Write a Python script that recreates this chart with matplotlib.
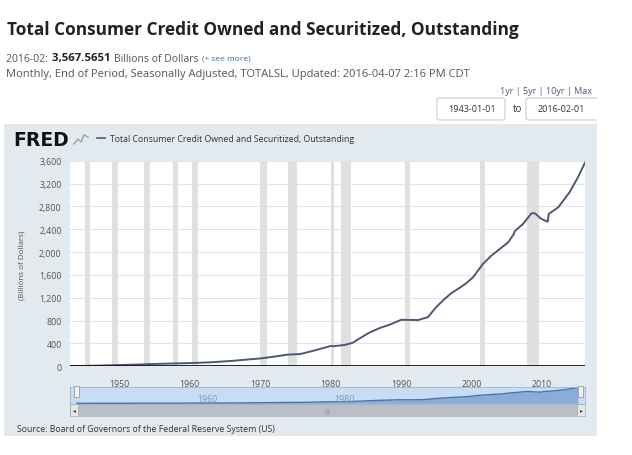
import numpy as np
import matplotlib.pyplot as plt
from matplotlib.patches import Rectangle, FancyBboxPatch
from matplotlib.lines import Line2D

# Serie (anio decimal, miles de millones de USD)
anios = [1943.0, 1945.0, 1947.0, 1950.0, 1953.0, 1955.0, 1958.0, 1960.0, 1963.0,
         1966.0, 1970.2, 1972.0, 1973.9, 1975.7, 1977.6, 1980.0, 1980.5, 1982.0,
         1983.1, 1984.0, 1985.5, 1986.9, 1988.5, 1990.0, 1992.4, 1993.8, 1995.0,
         1996.2, 1997.1, 1998.1, 1999.2, 2000.2, 2001.6, 2002.8, 2005.2, 2006.0,
         2006.1, 2006.3, 2007.3, 2008.5, 2009.0, 2009.9, 2010.8, 2010.95, 2012.3,
         2013.9, 2015.1, 2016.1]
valores = [5, 6, 12, 22, 32, 41, 50, 56, 70,
           95, 140, 170, 204, 215, 274, 355, 352, 375,
           410, 480, 590, 667, 735, 814, 810, 860, 1040,
           1182, 1278, 1358, 1450, 1558, 1791, 1937, 2171, 2317,
           2360, 2387, 2492, 2679, 2679, 2580, 2532, 2667, 2784,
           3046, 3309, 3567]

# Recesiones NBER (inicio, fin)
recesiones = [(1945.1, 1945.8), (1948.9, 1949.8), (1953.5, 1954.4), (1957.6, 1958.3),
              (1960.3, 1961.1), (1969.9, 1970.9), (1973.9, 1975.2), (1980.0, 1980.5),
              (1981.5, 1982.9), (1990.5, 1991.2), (2001.2, 2001.9), (2007.9, 2009.5)]

y_ticks = [0, 400, 800, 1200, 1600, 2000, 2400, 2800, 3200, 3600]
x_ticks = [1950, 1960, 1970, 1980, 1990, 2000, 2010]

W, H = 632, 456
def fx(px):
    return px / W
def fy(py):
    return 1 - py / H

plt.rcParams['font.family'] = ['Open Sans', 'DejaVu Sans']
fig = plt.figure(figsize=(W / 100, H / 100), dpi=100)
fig.patch.set_facecolor('white')
rend = fig.canvas.get_renderer()

# Encabezado
fig.text(fx(7), fy(30), 'Total Consumer Credit Owned and Securitized, Outstanding',
         fontsize=12.4, fontweight='bold', color='#222222', va='center')

# linea 2: trozos seguidos
x = 6
for txt, kw in [('2016-02: ', dict(fontsize=7.5, color='#555555')),
                ('3,567.5651 ', dict(fontsize=8.2, fontweight='bold', color='#222222')),
                ('Billions of Dollars ', dict(fontsize=7.5, color='#555555')),
                ('(+ see more)', dict(fontsize=6, color='#3a6ea5'))]:
    t = fig.text(fx(x), fy(59), txt, va='center', **kw)
    x += t.get_window_extent(rend).width + 1

fig.text(fx(6), fy(75), 'Monthly, End of Period, Seasonally Adjusted, TOTALSL, Updated: 2016-04-07 2:16 PM CDT',
         fontsize=8.0, color='#555555', va='center')
fig.text(fx(500), fy(92), '1yr | 5yr | 10yr | Max', fontsize=6.5, color='#4a5a78', va='center')

for x0, x1, txt in [(437, 505, '1943-01-01'), (526, 604, '2016-02-01')]:
    fig.patches.append(FancyBboxPatch((fx(x0), fy(121)), fx(x1 - x0), (121 - 99) / H,
                                      boxstyle='round,pad=0,rounding_size=0.004',
                                      transform=fig.transFigure, facecolor='white',
                                      edgecolor='#cccccc', linewidth=0.8))
    fig.text(fx(x0 + 35), fy(110), txt, fontsize=6.5, color='#333333', ha='center', va='center')
fig.text(fx(518), fy(110), 'to', fontsize=7, color='#333333', ha='center', va='center')

# Panel del grafico
fig.patches.append(Rectangle((fx(4), fy(437)), fx(597 - 4), (437 - 125) / H,
                             transform=fig.transFigure, facecolor='#e2e9ef',
                             edgecolor='none', zorder=-5))
fig.text(fx(13), fy(140), 'FRED', fontsize=13.5, fontweight='heavy', color='#111111',
         va='center', family=['DejaVu Sans'])
fig.lines.append(Line2D([fx(74), fx(78), fx(81), fx(84), fx(88)],
                        [fy(145), fy(140), fy(143), fy(136), fy(138)],
                        transform=fig.transFigure, color='#8fa8a0', linewidth=1))
fig.lines.append(Line2D([fx(97), fx(105)], [fy(139), fy(139)],
                        transform=fig.transFigure, color='#4e5875', linewidth=1.2))
fig.text(fx(110), fy(139), 'Total Consumer Credit Owned and Securitized, Outstanding',
         fontsize=6.3, color='#333333', va='center')

# Grafico principal
ax = fig.add_axes([fx(70), fy(367.3), fx(585 - 70), (367.3 - 161.7) / H])
ax.set_facecolor('white')
for a, b in recesiones:
    ax.axvspan(a, b, color='#e0e0e0', linewidth=0, zorder=1)
ax.plot(anios, valores, color='#4e5875', linewidth=1.4, zorder=3)
ax.axhline(0, color='#111111', linewidth=2, zorder=4)
ax.set_xlim(1943.0, 2016.1)
ax.set_ylim(0, 3600)
ax.set_yticks(y_ticks)
ax.set_yticklabels([f'{v:,}' for v in y_ticks])
ax.set_xticks(x_ticks)
ax.grid(axis='y', color='#e4e4e4', linewidth=0.8, zorder=0)
ax.set_axisbelow(True)
for s in ax.spines.values():
    s.set_visible(False)
ax.tick_params(length=0, labelsize=6.3, colors='#555555', pad=6)
ax.tick_params(axis='x', pad=9)
fig.text(fx(22), fy(265), '(Billions of Dollars)', fontsize=5.8, color='#555555',
         rotation=90, ha='center', va='center')

# Navegador
nav = fig.add_axes([fx(70), fy(405), fx(585 - 70), (405 - 388) / H])
nav.set_facecolor('#c9dcf1')
nav.fill_between(anios, valores, 0, color='#7ba0d2', linewidth=0, alpha=0.8)
nav.plot(anios, valores, color='#4a74b0', linewidth=1)
nav.set_xlim(1943 - 7 / 6.85, 2016.1 + 7 / 6.85)
nav.set_ylim(-150, 3700)
nav.set_yticks([])
nav.set_xticks([])
for yr in [1960, 1980]:
    nav.text(yr + 0.5, 0.35, str(yr), transform=nav.get_xaxis_transform(),
             fontsize=6.3, color='#7a94b8', ha='left', va='center')
for s in nav.spines.values():
    s.set_color('#9eb5cf')
    s.set_linewidth(0.6)
for xh in [74, 578]:
    fig.patches.append(Rectangle((fx(xh), fy(398)), fx(5), 11 / H, transform=fig.transFigure,
                                 facecolor='#f2f2f2', edgecolor='#999999', linewidth=0.6, zorder=5))

scroll = fig.add_axes([fx(70), fy(417), fx(585 - 70), (417 - 405) / H])
scroll.set_facecolor('#b9bfc6')
scroll.set_xlim(0, 1)
scroll.set_ylim(0, 1)
scroll.set_xticks([])
scroll.set_yticks([])
for s in scroll.spines.values():
    s.set_color('#a9b0b8')
    s.set_linewidth(0.5)
scroll.add_patch(Rectangle((0, 0), 8 / 515, 1, facecolor='#e6e6e6', edgecolor='#aaaaaa', linewidth=0.5))
scroll.add_patch(Rectangle((1 - 8 / 515, 0), 8 / 515, 1, facecolor='#e6e6e6', edgecolor='#aaaaaa', linewidth=0.5))
scroll.text(4 / 515, 0.5, '◂', fontsize=4, ha='center', va='center', color='#333333', family=['DejaVu Sans'])
scroll.text(1 - 4 / 515, 0.5, '▸', fontsize=4, ha='center', va='center', color='#333333', family=['DejaVu Sans'])
scroll.text(0.5, 0.5, '|||', fontsize=4, ha='center', va='center', color='#777777', family=['DejaVu Sans'])

fig.text(fx(17), fy(430), 'Source: Board of Governors of the Federal Reserve System (US)',
         fontsize=6.3, color='#333333', va='center')

# Corte derecho de la captura
fig.patches.append(Rectangle((fx(597), 0), fx(W - 597), 1, transform=fig.transFigure,
                             facecolor='white', edgecolor='none', zorder=10))

fig.savefig('out.png', dpi=100)
